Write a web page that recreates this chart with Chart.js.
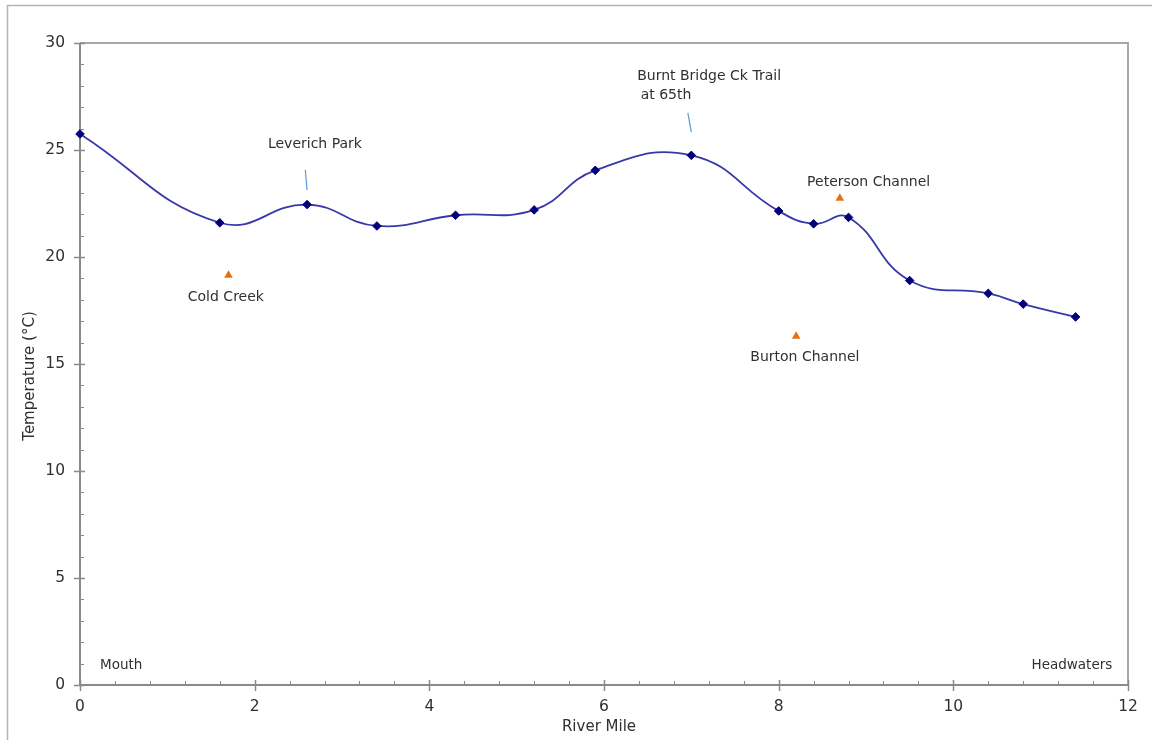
<!DOCTYPE html>
<html>
<head>
<meta charset="utf-8">
<script src="https://cdn.jsdelivr.net/npm/chart.js@4/dist/chart.umd.min.js"></script>
<style>
  html, body { margin: 0; padding: 0; background: #fff; }
  #c { display: block; }
</style>
</head>
<body>
<canvas id="c" width="1152" height="740"></canvas>
<script>
// Main-stem temperature profile along the creek
const riverMile   = [0, 1.6, 2.6, 3.4, 4.3, 5.2, 5.9, 7.0, 8.0, 8.4, 8.8, 9.5, 10.4, 10.8, 11.4];
const temperature = [25.75, 21.6, 22.45, 21.45, 21.95, 22.2, 24.05, 24.75, 22.15, 21.55, 21.85, 18.9, 18.3, 17.8, 17.2];

// Tributary inflow temperatures
const tributaryMile = [1.7, 8.2, 8.7];
const tributaryTemp = [19.15, 16.3, 22.75];

// Axis ticks
const xTicks = [0, 2, 4, 6, 8, 10, 12];
const yTicks = [0, 5, 10, 15, 20, 25, 30];
const xMinorStep = 0.4;
const yMinorStep = 1;

// Site labels (anchor in river mile / temperature units)
const siteLabels = [
  { text: 'Leverich Park',        x: 2.69, y: 25.28, align: 'center', size: 14 },
  { text: 'Cold Creek',           x: 1.67, y: 18.13, align: 'center', size: 14 },
  { text: 'Burnt Bridge Ck Trail',x: 6.38, y: 28.46, align: 'left',   size: 14 },
  { text: 'at 65th',              x: 6.42, y: 27.57, align: 'left',   size: 14 },
  { text: 'Peterson Channel',     x: 9.03, y: 23.50, align: 'center', size: 14 },
  { text: 'Burton Channel',       x: 8.30, y: 15.33, align: 'center', size: 14 },
  { text: 'Mouth',                x: 0.23, y: 0.93,  align: 'left',   size: 13.5 },
  { text: 'Headwaters',           x: 11.82, y: 0.93, align: 'right',  size: 13.5 }
];

// Leader lines from labels to sites
const leaders = [
  { x1: 2.58, y1: 24.07, x2: 2.60, y2: 23.13 },
  { x1: 6.96, y1: 26.73, x2: 7.00, y2: 25.84 }
];

const FONT = '"DejaVu Sans", Verdana, sans-serif';
const AXIS_COLOR = '#8a8a8a';
const TEXT_COLOR = '#303030';

const decorations = {
  id: 'decorations',
  beforeDraw(chart) {
    const ctx = chart.ctx;
    ctx.save();
    // outer figure border
    ctx.strokeStyle = '#b4b4b4';
    ctx.lineWidth = 1.5;
    ctx.beginPath();
    ctx.moveTo(7.5, 740);
    ctx.lineTo(7.5, 5.5);
    ctx.lineTo(1152, 5.5);
    ctx.stroke();
    ctx.restore();
  },
  beforeDatasetsDraw(chart) {
    const ctx = chart.ctx;
    const xs = chart.scales.x, ys = chart.scales.y;
    const a = chart.chartArea;
    ctx.save();
    // plot frame (top and right)
    ctx.strokeStyle = '#a8a8a8';
    ctx.lineWidth = 2;
    ctx.beginPath();
    ctx.moveTo(a.left, a.top);
    ctx.lineTo(a.right, a.top);
    ctx.lineTo(a.right, a.bottom);
    ctx.stroke();

    // axes
    ctx.strokeStyle = AXIS_COLOR;
    ctx.lineWidth = 2;
    ctx.beginPath();
    ctx.moveTo(a.left, a.top);
    ctx.lineTo(a.left, a.bottom);
    ctx.lineTo(a.right, a.bottom);
    ctx.stroke();

    ctx.lineWidth = 1;
    ctx.beginPath();
    // x minor ticks
    for (let v = 0; v <= 12.0001; v += xMinorStep) {
      const px = Math.round(xs.getPixelForValue(v)) + 0.5;
      ctx.moveTo(px, a.bottom - 4);
      ctx.lineTo(px, a.bottom);
    }
    // y minor ticks
    for (let v = 0; v <= 30.0001; v += yMinorStep) {
      const py = Math.round(ys.getPixelForValue(v)) + 0.5;
      ctx.moveTo(a.left, py);
      ctx.lineTo(a.left + 4, py);
    }
    ctx.stroke();

    ctx.lineWidth = 1.5;
    ctx.beginPath();
    xTicks.forEach(v => {
      const px = Math.round(xs.getPixelForValue(v)) + 0.5;
      ctx.moveTo(px, a.bottom - 5);
      ctx.lineTo(px, a.bottom + 6);
    });
    yTicks.forEach(v => {
      const py = Math.round(ys.getPixelForValue(v)) + 0.5;
      ctx.moveTo(a.left - 6, py);
      ctx.lineTo(a.left + 5, py);
    });
    ctx.stroke();

    // leader lines
    ctx.strokeStyle = '#5b9bd5';
    ctx.lineWidth = 1.2;
    ctx.beginPath();
    leaders.forEach(l => {
      ctx.moveTo(xs.getPixelForValue(l.x1), ys.getPixelForValue(l.y1));
      ctx.lineTo(xs.getPixelForValue(l.x2), ys.getPixelForValue(l.y2));
    });
    ctx.stroke();
    ctx.restore();
  },
  afterDraw(chart) {
    const ctx = chart.ctx;
    const xs = chart.scales.x, ys = chart.scales.y;
    const a = chart.chartArea;
    ctx.save();
    ctx.fillStyle = TEXT_COLOR;

    // tick labels
    ctx.font = '15.5px ' + FONT;
    ctx.textBaseline = 'middle';
    ctx.textAlign = 'right';
    yTicks.forEach(v => ctx.fillText(String(v), a.left - 15, ys.getPixelForValue(v)));
    ctx.textAlign = 'center';
    xTicks.forEach(v => ctx.fillText(String(v), xs.getPixelForValue(v), a.bottom + 22));

    // axis titles
    ctx.font = '15px ' + FONT;
    ctx.fillText('River Mile', (a.left + a.right) / 2 - 5, a.bottom + 42);
    ctx.save();
    ctx.translate(30, 376);
    ctx.rotate(-Math.PI / 2);
    ctx.fillText('Temperature (\u00B0C)', 0, 0);
    ctx.restore();

    // site labels
    siteLabels.forEach(s => {
      ctx.font = s.size + 'px ' + FONT;
      ctx.textAlign = s.align;
      ctx.fillText(s.text, xs.getPixelForValue(s.x), ys.getPixelForValue(s.y));
    });
    ctx.restore();
  }
};

new Chart(document.getElementById('c'), {
  type: 'scatter',
  data: {
    datasets: [
      {
        label: 'Main stem',
        data: riverMile.map((m, i) => ({ x: m, y: temperature[i] })),
        showLine: true,
        tension: 0.45,
        borderColor: '#3838a8',
        borderWidth: 1.8,
        pointStyle: 'rectRot',
        pointRadius: 4.3,
        pointBackgroundColor: '#00007a',
        pointBorderColor: '#00007a',
        pointBorderWidth: 1,
        clip: false,
        order: 2
      },
      {
        label: 'Tributaries',
        data: tributaryMile.map((m, i) => ({ x: m, y: tributaryTemp[i] })),
        showLine: false,
        pointStyle: 'triangle',
        pointRadius: 5,
        pointBackgroundColor: '#e8700e',
        pointBorderColor: '#e8700e',
        pointBorderWidth: 0,
        clip: false,
        order: 1
      }
    ]
  },
  options: {
    responsive: false,
    animation: false,
    devicePixelRatio: 1,
    layout: { padding: { left: 0, top: 43, right: 24, bottom: 0 } },
    plugins: { legend: { display: false }, tooltip: { enabled: false } },
    scales: {
      x: {
        type: 'linear', min: 0, max: 12,
        grid: { display: false }, border: { display: false },
        ticks: { display: false },
        afterFit(scale) { scale.height = 55; }
      },
      y: {
        type: 'linear', min: 0, max: 30,
        grid: { display: false }, border: { display: false },
        ticks: { display: false },
        afterFit(scale) { scale.width = 80; }
      }
    }
  },
  plugins: [decorations]
});
</script>
</body>
</html>
